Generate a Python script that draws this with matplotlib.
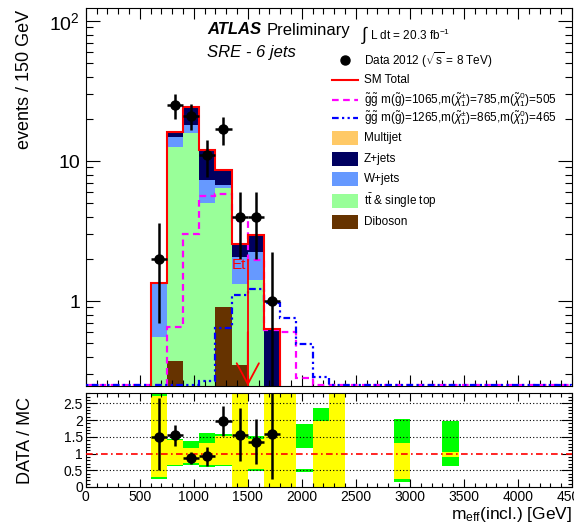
import numpy as np
import matplotlib
matplotlib.use("Agg")
import matplotlib.pyplot as plt
from matplotlib.patches import Rectangle
from matplotlib.lines import Line2D
from matplotlib.ticker import FixedLocator, FixedFormatter, MultipleLocator, FuncFormatter, NullFormatter

plt.rcParams['font.family'] = ['Liberation Sans', 'DejaVu Sans']
plt.rcParams['mathtext.fontset'] = 'custom'
plt.rcParams['mathtext.rm'] = 'Liberation Sans'
plt.rcParams['mathtext.it'] = 'Liberation Sans:italic'
plt.rcParams['mathtext.bf'] = 'Liberation Sans:bold'

# ---------------- data (30 bins of 150 GeV, 0-4500 GeV) ----------------
bin_width = 150
edges = np.arange(0, 4500 + 1, bin_width)

diboson   = [0, 0, 0, 0, 0.00, 0.37, 0.00, 0.00, 0.91, 0.35, 0.00, 0.00] + [0] * 18
ttbar     = [0, 0, 0, 0, 0.55, 12.23, 15.8, 4.99, 5.49, 0.97, 1.41, 0.00] + [0] * 18
wjets     = [0, 0, 0, 0, 0.80, 2.30, 2.30, 2.31, 0.30, 0.75, 0.84, 0.00] + [0] * 18
zjets     = [0, 0, 0, 0, 0.00, 1.30, 6.10, 4.70, 1.90, 0.48, 0.71, 0.63] + [0] * 18
multijet  = [0] * 30

signal1   = [0, 0, 0, 0, 0, 0.65, 3.0, 5.6, 5.8, 3.7, 1.96, 0.62, 0.60, 0.28] + [0] * 16
signal2   = [0, 0, 0, 0, 0, 0, 0, 0.27, 0.64, 1.1, 1.21, 0.96, 0.75, 0.49, 0.285] + [0] * 15

data_counts = [0, 0, 0, 0, 2, 25, 21, 11, 17, 4, 4, 1] + [0] * 18
data_err_up = [0, 0, 0, 0, 1.6, 5.0, 4.5, 3.2, 3.8, 2.0, 2.0, 1.25] + [0] * 18
data_err_dn = [0, 0, 0, 0, 1.3, 5.0, 4.3, 3.3, 4.0, 2.0, 2.0, 0.84] + [0] * 18

# ratio-panel uncertainty bands: (bin index, low, high, colour)
band_bin   = [4, 5, 6, 7, 8, 9, 10, 11, 12, 13, 14, 15, 19, 22,
              4, 5, 6, 7, 8, 9, 10, 11, 12, 13, 14, 15, 19, 22,
              13]
band_low   = [0.23, 0.63, 0.67, 0.60, 0.64, 0.0, 0.47, 0.0, 0.0, 0.45, 0.0, 0.0, 0.16, 0.63,
              0.29, 0.66, 0.71, 0.66, 0.66, 0.0, 0.53, 0.0, 0.0, 0.53, 0.0, 0.0, 0.24, 0.89,
              0.53]
band_high  = [2.78, 1.44, 1.38, 1.61, 1.58, 3.0, 1.51, 3.0, 3.0, 1.89, 2.36, 3.0, 2.03, 1.98,
              2.73, 1.41, 1.18, 1.31, 1.51, 3.0, 1.44, 3.0, 3.0, 1.16, 1.96, 3.0, 1.33, 1.06,
              1.16]
band_color = ['#00ff00'] * 14 + ['#ffff00'] * 14 + ['white']

# ---------------- derived ----------------
centers = 0.5 * (edges[:-1] + edges[1:])
comps = [diboson, ttbar, wjets, zjets, multijet]
comp_colors = ['#663300', '#99ff99', '#6699ff', '#000060', '#ffc966']
comp_labels = ['Diboson', r'$\mathrm{t}\bar{\mathrm{t}}$ & single top', 'W+jets', 'Z+jets', 'Multijet']
total = np.sum(np.array(comps, dtype=float), axis=0)
data_counts = np.array(data_counts, float)
data_err_up = np.array(data_err_up, float)
data_err_dn = np.array(data_err_dn, float)

W, H = 574, 526
fig = plt.figure(figsize=(W / 100, H / 100), dpi=100)
L, R = 85.7, 572
ax = fig.add_axes([L / W, 1 - 386 / H, (R - L) / W, (386 - 8) / H])
rax = fig.add_axes([L / W, 1 - 487 / H, (R - L) / W, (487 - 393) / H])

ymin, ymax = 0.247, 124
ax.set_yscale('log')
ax.set_xlim(0, 4500)
ax.set_ylim(ymin, ymax)

SIG1_LS = (0, (3, 2))
SIG2_LS = (0, (3, 1.5, 1, 1.5, 1, 1.5))

# stacked backgrounds
base = np.full(30, 1e-3)
for vals, col in zip(comps, comp_colors):
    top = base + np.array(vals, float)
    ax.stairs(top, edges, baseline=base, fill=True, color=col, lw=0)
    base = top

# signals (clipped at the lower frame like ROOT does)
ax.stairs(np.maximum(signal1, ymin * 1.01), edges, color='#ff00ff', lw=1.6, ls=SIG1_LS, zorder=4)
ax.stairs(np.maximum(signal2, ymin * 1.01), edges, color='#0000ff', lw=1.6, ls=SIG2_LS, zorder=4)

# SM total
ax.stairs(np.where(total > 0, total, 1e-3), edges, color='red', lw=1.5, zorder=5)

# data
m = data_counts > 0
ax.errorbar(centers[m], data_counts[m], yerr=[data_err_dn[m], data_err_up[m]],
            xerr=bin_width / 2, fmt='o', color='black', ms=6.5, elinewidth=1.8,
            capsize=0, zorder=6)

# cut arrow
ax.plot([1500, 1500], [1.96, ymin], color='red', lw=1.3, zorder=7)
ax.annotate('', xy=(1500, ymin), xytext=(1500, 0.6),
            arrowprops=dict(arrowstyle='->,head_length=1.5,head_width=0.8', color='red',
                            lw=1.3, shrinkA=0, shrinkB=0, mutation_scale=10), zorder=7)
ax.text(1350, 1.80, 'Et', color='red', fontsize=11, ha='left', va='center', zorder=7)

# axes styling main
ax.yaxis.set_major_locator(FixedLocator([1, 10, 100]))
ax.yaxis.set_major_formatter(FixedFormatter(['1', '10', r'$10^{2}$']))
ax.xaxis.set_major_locator(MultipleLocator(500))
ax.xaxis.set_minor_locator(MultipleLocator(100))
ax.xaxis.set_major_formatter(NullFormatter())
ax.tick_params(which='both', direction='in', top=True, right=True, width=0.8)
ax.tick_params(axis='y', which='major', length=10, labelsize=14, pad=4)
ax.tick_params(axis='y', which='minor', length=5)
ax.tick_params(axis='x', which='major', length=8)
ax.tick_params(axis='x', which='minor', length=4)
for s in ax.spines.values():
    s.set_linewidth(0.8)

# legend (placed entry by entry, positions in figure pixels)
def fx(px):
    return px / W

def fy(py):
    return 1 - py / H

leg_rows = [60, 80, 100, 118, 138, 159, 179, 201, 222]
labels = [
    r'Data 2012 ($\sqrt{\mathrm{s}}$ = 8 TeV)',
    'SM Total',
    r'$\tilde{\mathrm{g}}\tilde{\mathrm{g}}$ m($\tilde{\mathrm{g}}$)=1065,m($\tilde{\chi}^{\pm}_{1}$)=785,m($\tilde{\chi}^{0}_{1}$)=505',
    r'$\tilde{\mathrm{g}}\tilde{\mathrm{g}}$ m($\tilde{\mathrm{g}}$)=1265,m($\tilde{\chi}^{\pm}_{1}$)=865,m($\tilde{\chi}^{0}_{1}$)=465',
    comp_labels[4], comp_labels[3], comp_labels[2], comp_labels[1], comp_labels[0],
]
hx0, hx1, tx = 332, 358, 364
for i, (yy, lab) in enumerate(zip(leg_rows, labels)):
    if i == 0:
        fig.add_artist(Line2D([fx((hx0 + hx1) / 2)], [fy(yy)], marker='o', color='black',
                              ms=6.5, ls='none', transform=fig.transFigure))
    elif i == 1:
        fig.add_artist(Line2D([fx(hx0), fx(hx1)], [fy(yy)] * 2, color='red', lw=1.5,
                              transform=fig.transFigure))
    elif i == 2:
        fig.add_artist(Line2D([fx(hx0), fx(hx1)], [fy(yy)] * 2, color='#ff00ff', lw=1.6,
                              ls=SIG1_LS, transform=fig.transFigure))
    elif i == 3:
        fig.add_artist(Line2D([fx(hx0), fx(hx1)], [fy(yy)] * 2, color='#0000ff', lw=1.6,
                              ls=SIG2_LS, transform=fig.transFigure))
    else:
        col = comp_colors[8 - i]
        fig.add_artist(Rectangle((fx(hx0), fy(yy + 7)), (hx1 - hx0) / W, 14 / H,
                                 color=col, lw=0, transform=fig.transFigure))
    fig.text(fx(tx), fy(yy), lab, fontsize=8.5, ha='left', va='center')

fig.text(fx(207), fy(30), 'ATLAS', fontsize=12, fontweight='bold', fontstyle='italic',
         ha='left', va='center')
fig.text(fx(267), fy(30), 'Preliminary', fontsize=12, ha='left', va='center')
fig.text(fx(207), fy(52), 'SRE - 6 jets', fontsize=12, fontstyle='italic',
         ha='left', va='center')
fig.text(fx(361), fy(35), r'$\int$', fontsize=13, ha='left', va='center')
fig.text(fx(370), fy(35), r'L dt = 20.3 fb$^{-1}$', fontsize=8.5, ha='left', va='center')

fig.text(fx(25), fy(10), 'events / 150 GeV', fontsize=13, rotation=90, ha='center', va='top')
fig.text(fx(25), fy(440), 'DATA / MC', fontsize=13, rotation=90, ha='center', va='center')

# ---------------- ratio panel ----------------
rax.set_xlim(0, 4500)
rax.set_ylim(0, 2.81)
for b, lo, hi, col in zip(band_bin, band_low, band_high, band_color):
    rax.bar(edges[b], hi - lo, bottom=lo, width=bin_width, align='edge', color=col, lw=0,
            zorder=1)
for g in [0.5, 1.5, 2.0, 2.5]:
    rax.axhline(g, color='black', ls=(0, (1, 2)), lw=0.8, zorder=2)
rax.axhline(1.0, color='red', ls=(0, (4, 2, 1, 2)), lw=1.2, zorder=3)

mr = (data_counts > 0) & (total > 0)
ratio = data_counts[mr] / total[mr]
rax.errorbar(centers[mr], ratio, yerr=[data_err_dn[mr] / total[mr], data_err_up[mr] / total[mr]],
             xerr=bin_width / 2, fmt='o', color='black', ms=6.5, elinewidth=1.8,
             capsize=0, zorder=6)

rax.yaxis.set_major_locator(MultipleLocator(0.5))
rax.yaxis.set_minor_locator(MultipleLocator(0.1))
rax.yaxis.set_major_formatter(FuncFormatter(lambda v, p: f'{v:g}'))
rax.xaxis.set_major_locator(MultipleLocator(500))
rax.xaxis.set_minor_locator(MultipleLocator(100))
rax.xaxis.set_major_formatter(FuncFormatter(lambda v, p: f'{v:g}'))
rax.tick_params(which='both', direction='in', top=True, right=True, width=0.8)
rax.tick_params(axis='y', which='major', length=8, labelsize=10, pad=2)
rax.tick_params(axis='y', which='minor', length=3)
rax.tick_params(axis='x', which='major', length=6, labelsize=10, pad=2)
rax.tick_params(axis='x', which='minor', length=3)
for s in rax.spines.values():
    s.set_linewidth(0.8)

fig.text(fx(572), fy(515), r'm$_{\mathrm{eff}}$(incl.) [GeV]', fontsize=12.5,
         ha='right', va='center')

fig.savefig('out.png', dpi=100)
